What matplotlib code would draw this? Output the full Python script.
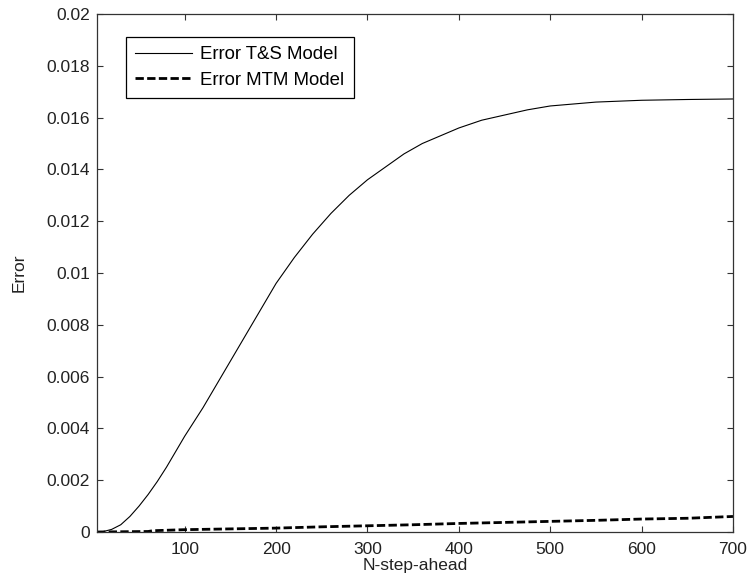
import matplotlib
matplotlib.use("Agg")
import matplotlib.pyplot as plt
from matplotlib.ticker import FuncFormatter

# values
ts_steps = [4, 10, 20, 30, 40, 50, 60, 70, 80, 90, 100, 110, 120, 130, 140,
            150, 160, 170, 180, 190, 200, 210, 220, 230, 240, 250, 260, 270,
            280, 290, 300, 320, 340, 360, 380, 400, 425, 450, 475, 500, 550,
            600, 650, 700]
ts_error = [0.0, 0.00001, 0.0001, 0.00028, 0.0006, 0.001, 0.00145, 0.00195,
            0.0025, 0.0031, 0.0037, 0.00425, 0.0048, 0.0054, 0.006, 0.0066,
            0.0072, 0.0078, 0.0084, 0.0090, 0.0096, 0.0101, 0.0106, 0.01105,
            0.0115, 0.0119, 0.0123, 0.01265, 0.0130, 0.0133, 0.0136, 0.0141,
            0.0146, 0.0150, 0.0153, 0.0156, 0.0159, 0.0161, 0.0163, 0.01645,
            0.0166, 0.01667, 0.0167, 0.01672]

mtm_steps = [4, 60, 65, 100, 150, 200, 250, 300, 350, 400, 450, 500, 550,
             600, 650, 700]
mtm_error = [0.0, 0.00002, 0.00005, 0.00009, 0.00012, 0.00015, 0.0002,
             0.00024, 0.00028, 0.00033, 0.00037, 0.00041, 0.00045, 0.0005,
             0.00053, 0.0006]

x_ticks = [100, 200, 300, 400, 500, 600, 700]
y_ticks = [i * 0.002 for i in range(11)]

plt.rcParams["font.family"] = ["Liberation Sans", "DejaVu Sans"]
FS = 12.5

fig = plt.figure(figsize=(7.49, 5.87), dpi=100)
ax = fig.add_axes([0.1295, 0.0937, 0.8491, 0.8824])

ax.plot(ts_steps, ts_error, color="black", linewidth=0.8, label="Error T&S Model")
ax.plot(mtm_steps, mtm_error, color="black", linewidth=2.0, linestyle=(0, (3, 1.2)),
        label="Error MTM Model")

ax.set_xlim(4, 700)
ax.set_ylim(0, 0.02)
ax.set_xticks(x_ticks)
ax.set_yticks(y_ticks)
ax.yaxis.set_major_formatter(FuncFormatter(lambda v, p: "%g" % round(v, 4)))
ax.tick_params(direction="in", top=True, right=True, length=4.5, labelsize=FS,
               width=0.8, colors="#333333", labelcolor="#222222")
ax.tick_params(axis="x", pad=7)
ax.tick_params(axis="y", pad=5)
for s in ax.spines.values():
    s.set_color("#333333")
    s.set_linewidth(0.9)

ax.set_xlabel("N-step-ahead", fontsize=FS, labelpad=1, color="#222222")
ax.set_ylabel("Error", fontsize=FS, labelpad=14, color="#222222")

leg = ax.legend(loc="upper left", bbox_to_anchor=(0.0456, 0.9556), borderaxespad=0,
                fancybox=False, edgecolor="black", framealpha=1, fontsize=13.4,
                handlelength=3.05, handletextpad=0.45, borderpad=0.5, labelspacing=0.45)
leg.get_frame().set_linewidth(0.9)

fig.savefig("out.png", dpi=100)
